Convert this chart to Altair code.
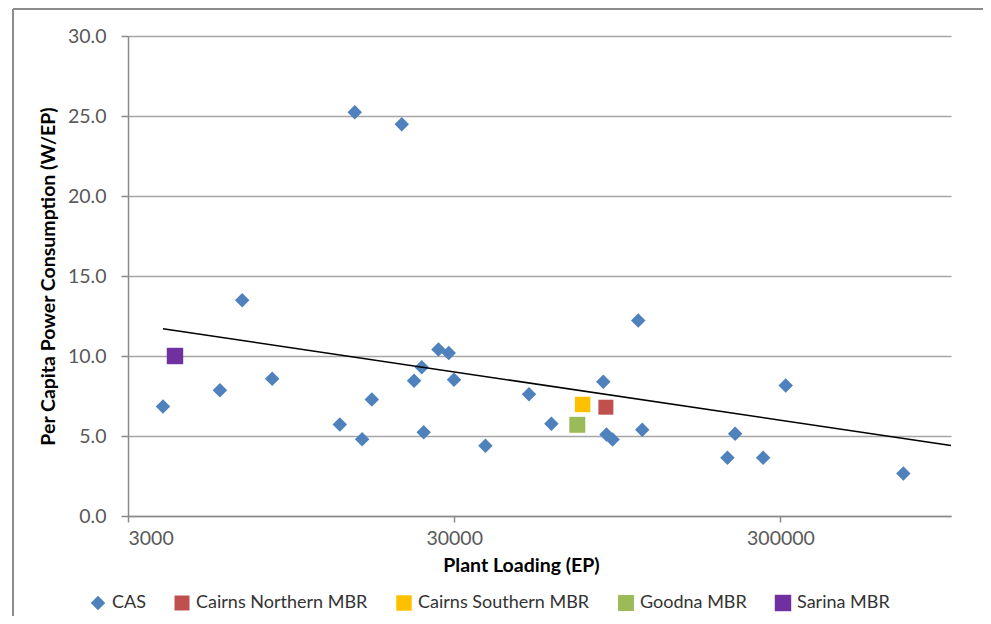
import altair as alt
import pandas as pd

# CAS plants
cas_x = [3840, 5740, 6718, 8300, 13380, 15660, 16770, 14870, 20720, 22600, 23860,
         24190, 26840, 28860, 29960, 37390, 50860, 59560, 85920, 87900, 91740,
         109960, 113100, 206400, 217900, 265500, 311400, 714400]
cas_y = [6.84, 7.86, 13.49, 8.58, 5.72, 4.80, 7.28, 25.24, 24.49, 8.45, 9.30,
         5.24, 10.41, 10.18, 8.51, 4.39, 7.61, 5.76, 8.39, 5.09, 4.78,
         12.22, 5.39, 3.64, 5.14, 3.64, 8.16, 2.66]

# MBR plants
mbr_names = ["Cairns Northern MBR", "Cairns Southern MBR", "Goodna MBR", "Sarina MBR"]
mbr_x = [87510, 74260, 71530, 4180]
mbr_y = [6.80, 6.97, 5.70, 10.0]

# trendline end points
trend_x = [3840, 1000000]
trend_y = [11.70, 4.41]

series_order = ["CAS"] + mbr_names
series_colors = ["#4F81BD", "#C0504D", "#FFC000", "#9BBB59", "#7030A0"]
series_shapes = ["diamond", "square", "square", "square", "square"]
series_sizes = [210, 270, 270, 270, 270]

x_ticks = [3000, 30000, 300000]
y_ticks = [0, 5, 10, 15, 20, 25, 30]

pts = pd.DataFrame({
    "x": cas_x + mbr_x,
    "y": cas_y + mbr_y,
    "Series": ["CAS"] * len(cas_x) + mbr_names,
})
trend = pd.DataFrame({"x": trend_x, "y": trend_y})

FONT = "Lato"
xscale = alt.Scale(type="log", domain=[3000, 1000000], nice=False)
yscale = alt.Scale(domain=[0, 30], nice=False)

xenc = alt.X("x:Q", scale=xscale, axis=alt.Axis(
    title="Plant Loading (EP)", values=x_ticks, format="d", grid=False,
    domainColor="#8a8a8a", domainWidth=1.5, tickColor="#8a8a8a", tickWidth=1.5,
    tickSize=6, labelPadding=7, labelFontSize=19.5, labelColor="#595959",
    labelFont=FONT, titleFont=FONT, titleFontSize=19.5, titleFontWeight="bold",
    titleColor="#000000", titleX=393, titleY=49, titleBaseline="middle",
    titleAlign="center"))
yenc = alt.Y("y:Q", scale=yscale, axis=alt.Axis(
    title="Per Capita Power Consumption (W/EP)", values=y_ticks, format=".1f",
    grid=True, gridColor="#a6a6a6", gridWidth=1.5,
    domainColor="#8a8a8a", domainWidth=1.5, tickColor="#8a8a8a", tickWidth=1.5,
    tickSize=7, labelPadding=15, labelFontSize=19.5, labelColor="#595959",
    labelFont=FONT, titleFont=FONT, titleFontSize=19.5, titleFontWeight="bold",
    titleColor="#000000", titleX=-80, titleY=240, titleBaseline="middle",
    titleAlign="center", titleAngle=270))

points = alt.Chart(pts).mark_point(filled=True, opacity=1, strokeWidth=0).encode(
    x=xenc,
    y=yenc,
    color=alt.Color("Series:N", scale=alt.Scale(domain=series_order, range=series_colors),
                    legend=alt.Legend(title=None, orient="none", legendX=-39, legendY=558,
                                      direction="horizontal", columns=5, columnPadding=27,
                                      labelFont=FONT, labelFontSize=18, labelColor="#333333",
                                      labelOffset=5, labelLimit=400, symbolStrokeWidth=0)),
    shape=alt.Shape("Series:N", scale=alt.Scale(domain=series_order, range=series_shapes)),
    size=alt.Size("Series:N", scale=alt.Scale(domain=series_order, range=series_sizes)),
)

line = alt.Chart(trend).mark_line(color="#000000", strokeWidth=1.5).encode(
    x=alt.X("x:Q", scale=xscale),
    y=alt.Y("y:Q", scale=yscale),
)

frame_left = alt.Chart(trend).mark_rule(color="#8c8c8c", strokeWidth=2).encode(
    x=alt.value(-115), y=alt.value(-27), y2=alt.value(620))
frame_top = alt.Chart(trend).mark_rule(color="#8c8c8c", strokeWidth=2).encode(
    x=alt.value(-115), x2=alt.value(900), y=alt.value(-27))

chart = alt.layer(points, line, frame_left, frame_top).properties(
    width=823, height=480,
    autosize=alt.AutoSizeParams(type="none"),
    padding={"left": 120, "top": 28, "right": 32, "bottom": 100},
).configure_view(stroke=None)

chart.save("out.html", embed_options={"renderer": "svg", "actions": False})
